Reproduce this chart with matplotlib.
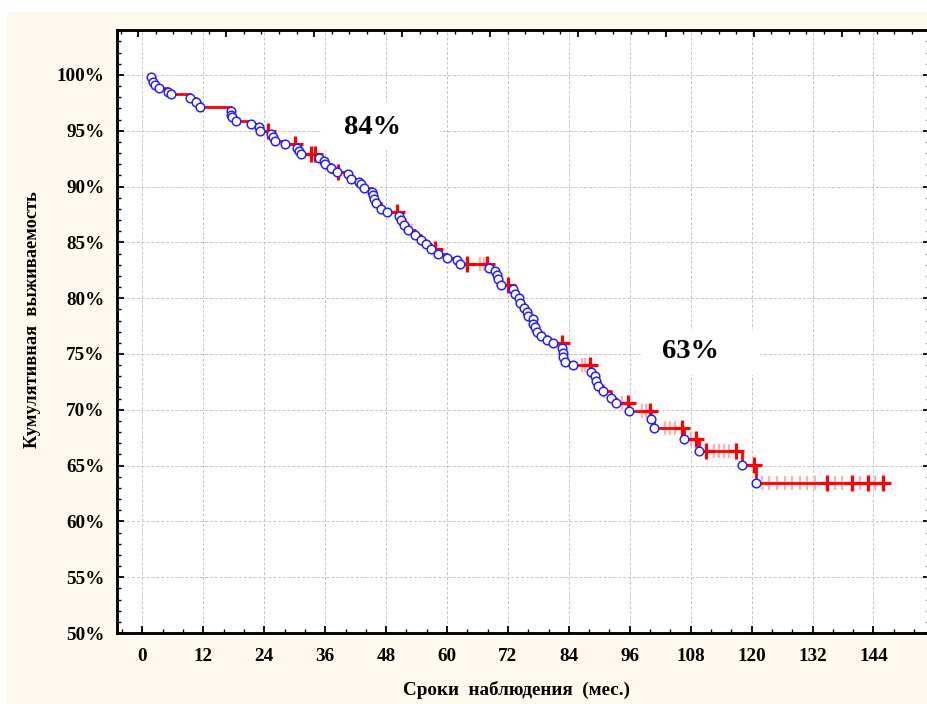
import numpy as np
import matplotlib
matplotlib.use("Agg")
import matplotlib.pyplot as plt
from matplotlib.patches import Rectangle
from matplotlib.ticker import MultipleLocator, FixedLocator, FuncFormatter

# ---------------- data ----------------
event_times = [1.6, 2.0, 2.4, 3.2, 5.0, 5.6, 9.4, 10.6, 11.4, 17.4, 17.5, 17.6,
               18.5, 21.3, 23.0, 23.1, 25.4, 25.7, 26.1, 28.0, 30.5, 30.8, 31.2,
               34.7, 35.8, 36.0, 37.1, 38.3, 40.4, 41.1, 42.6, 43.0, 43.7, 45.2,
               45.5, 45.7, 46.0, 47.0, 48.1, 50.5, 51.0, 51.5, 52.4, 53.7, 54.9,
               55.9, 56.8, 58.2, 60.0, 61.9, 62.5, 68.2, 69.5, 69.8, 70.1, 70.6,
               73.0, 73.4, 74.1, 74.4, 75.2, 75.7, 76.0, 76.9, 77.0, 77.4, 77.7,
               78.5, 79.7, 80.8, 82.7, 82.8, 82.9, 83.3, 84.8, 88.3, 89.2, 89.3,
               89.8, 90.7, 92.3, 93.2, 95.9, 100.2, 100.7, 106.6, 109.7, 118.2,
               120.8]
event_surv = [99.8, 99.4, 99.1, 98.8, 98.5, 98.3, 97.97, 97.6, 97.1, 96.75, 96.45,
              96.2, 95.85, 95.65, 95.3, 94.95, 94.7, 94.4, 94.05, 93.8, 93.5, 93.2,
              92.9, 92.6, 92.3, 92.0, 91.7, 91.35, 91.1, 90.7, 90.4, 90.2, 89.9,
              89.55, 89.25, 88.9, 88.5, 88.0, 87.75, 87.4, 87.05, 86.6, 86.15,
              85.7, 85.25, 84.85, 84.45, 84.0, 83.6, 83.45, 83.1, 82.7, 82.4, 82.1,
              81.7, 81.15, 80.8, 80.4, 80.0, 79.6, 79.15, 78.8, 78.4, 78.1, 77.7,
              77.4, 77.0, 76.6, 76.25, 75.95, 75.5, 75.1, 74.7, 74.3, 74.0, 73.4,
              73.0, 72.6, 72.1, 71.7, 71.1, 70.6, 69.9, 69.15, 68.4, 67.35, 66.3,
              65.05, 63.4]
censor_times = [24.8, 30.1, 33.1, 33.9, 38.5, 50.1, 57.6, 64.0, 67.8, 72.1, 82.6,
                88.1, 95.7, 100.0, 106.2, 109.1, 111.0, 117.0, 120.5, 134.8,
                139.7, 143.0, 145.8]
# faint (ghosted) censor marks visible in the original
faint_censor_times = [52.0, 66.5, 67.2, 78.0, 86.5, 87.2, 91.0, 94.5, 98.5, 99.2,
                      103.0, 104.0, 105.0, 108.0, 112.5, 113.5, 114.5, 115.5,
                      122.0, 123.5, 125.0, 126.5, 128.0, 129.5, 131.0, 132.5,
                      136.5, 137.8, 141.3, 144.4]

x_ticks = [0, 12, 24, 36, 48, 60, 72, 84, 96, 108, 120, 132, 144]
y_ticks = [50, 55, 60, 65, 70, 75, 80, 85, 90, 95, 100]
note_labels = ["84%", "63%"]

x_label = "Сроки  наблюдения  (мес.)"
y_label = "Кумулятивная  выживаемость"

# ---------------- figure ----------------
W, H = 928, 704
fig = plt.figure(figsize=(W / 100, H / 100), dpi=100, facecolor="white")
cream = "#FEF9EE"
fig.patches.append(Rectangle((7 / W, 0), 1, (H - 12) / H, transform=fig.transFigure,
                             facecolor=cream, edgecolor="none", zorder=-10))

ax = fig.add_axes([117 / W, (H - 633) / H, (930 - 117) / W, (633 - 30) / H])
ax.set_facecolor("white")
ax.set_xlim(-5.02, 155.14)
ax.set_ylim(50, 104.03)

serif = ["Liberation Serif", "DejaVu Serif"]

# grid
ax.xaxis.set_major_locator(FixedLocator(x_ticks + [156]))
ax.xaxis.set_minor_locator(MultipleLocator(4))
ax.yaxis.set_major_locator(FixedLocator(y_ticks))
ax.yaxis.set_minor_locator(MultipleLocator(1))
ax.grid(True, which="major", color="#C4C4C4", linestyle=(0, (3, 2)), linewidth=0.7, zorder=0)
ax.set_axisbelow(True)

ax.yaxis.set_major_formatter(FuncFormatter(lambda v, p: f"{int(round(v))}%"))
ax.xaxis.set_major_formatter(FuncFormatter(lambda v, p: f"{int(round(v))}"))

for s in ax.spines.values():
    s.set_linewidth(1.8)
    s.set_color("black")

ax.tick_params(axis="both", which="major", direction="in", length=5, width=1.3,
               right=True, top=False, colors="black")
ax.tick_params(axis="both", which="minor", direction="in", length=3, width=1.0,
               right=True, top=False)
ax.tick_params(axis="y", which="major", pad=9)
ax.tick_params(axis="x", which="major", pad=11)
for lab in ax.get_xticklabels() + ax.get_yticklabels():
    lab.set_fontfamily(serif)
    lab.set_fontweight("bold")
    lab.set_fontsize(13.8)

# top axis ticks (independent spacing as in the original)
top = ax.twiny()
top.set_xlim(ax.get_xlim())
top_step = 17.32
top.xaxis.set_major_locator(FixedLocator(np.arange(-0.83, 156, top_step)))
top.xaxis.set_minor_locator(FixedLocator(np.arange(-0.83 - top_step, 156, top_step / 5)))
top.tick_params(axis="x", which="major", direction="in", length=5, width=1.3, labeltop=False)
top.tick_params(axis="x", which="minor", direction="in", length=3, width=1.0)
for s in top.spines.values():
    s.set_linewidth(1.8)

# white boxes behind notes
def t_of(px):
    return (px - 142.5) / 5.076

def s_of(py):
    return 100 - (py - 75) / 11.16

ax.add_patch(Rectangle((t_of(322), s_of(150)), t_of(440) - t_of(322), s_of(102) - s_of(150),
                       facecolor="white", edgecolor="none", zorder=1))
ax.add_patch(Rectangle((t_of(642), s_of(375)), t_of(760) - t_of(642), s_of(330) - s_of(375),
                       facecolor="white", edgecolor="none", zorder=1))
ax.text(t_of(373), s_of(128), note_labels[0], fontfamily=serif, fontweight="bold",
        fontsize=20.5, ha="center", va="center", zorder=2)
ax.text(t_of(690), s_of(352), note_labels[1], fontfamily=serif, fontweight="bold",
        fontsize=20.5, ha="center", va="center", zorder=2)

# KM curve
et = np.array(event_times)
es = np.array(event_surv)

def surv_at(times):
    t = np.array(times)
    i = np.searchsorted(et, t, side="right") - 1
    return es[np.clip(i, 0, None)]

ct = np.array(censor_times)
cs = surv_at(ct)
ft = np.array(faint_censor_times)
fs = surv_at(ft)

line_t = np.append(et, ct.max())
line_s = np.append(es, es[-1])
ax.plot(ft, fs, linestyle="none", marker="+", markersize=10, markeredgewidth=1.6,
        color="#FFB0B0", zorder=2.5)
ax.step(line_t, line_s, where="post", color="#FF0000", linewidth=2.0, zorder=3)
ax.plot(ct, cs, linestyle="none", marker="+", markersize=11, markeredgewidth=2.3,
        color="#FF0000", zorder=4)
ax.plot(et, es, linestyle="none", marker="o", markersize=6.2, markerfacecolor="white",
        markeredgecolor="#2222FF", markeredgewidth=1.1, zorder=5)

fig.text(517 / W, 1 - 690 / H, x_label, fontfamily=serif, fontweight="bold",
         fontsize=13.8, ha="center", va="center")
fig.text(33 / W, 1 - 320 / H, y_label, fontfamily=serif, fontweight="bold",
         fontsize=13.2, ha="center", va="center", rotation=90)

fig.savefig("out.png", dpi=100, facecolor=fig.get_facecolor())
